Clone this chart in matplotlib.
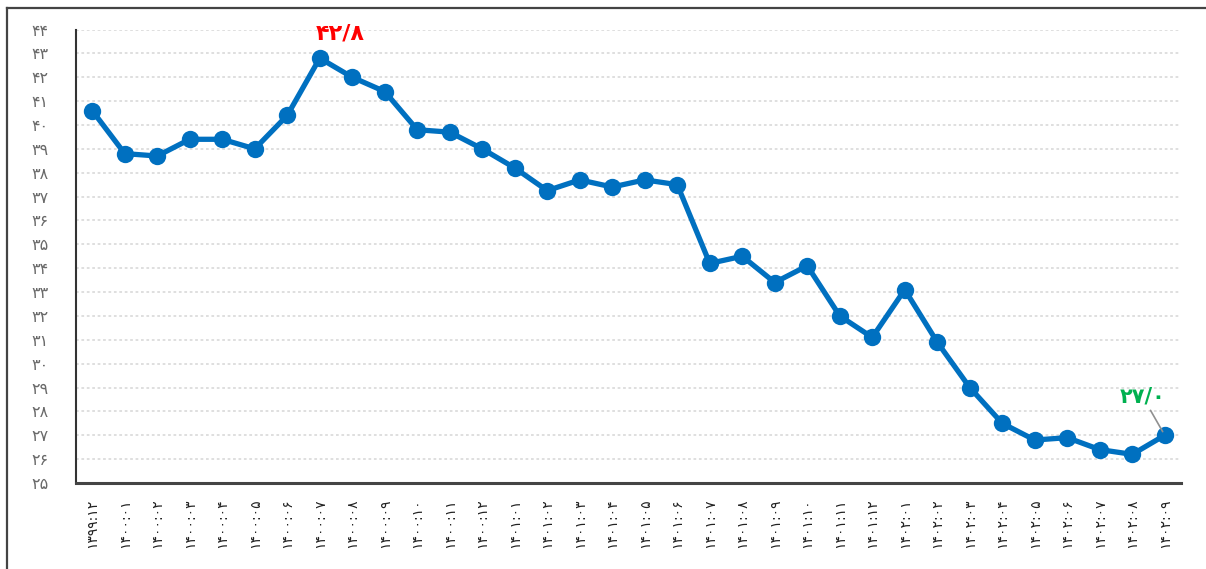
import matplotlib
matplotlib.use("Agg")
import matplotlib.pyplot as plt
from matplotlib.lines import Line2D

plt.rcParams['font.family'] = ['DejaVu Sans']

# ---- data ----
periods = ["۱۳۹۹:۱۲",
           "۱۴۰۰:۰۱", "۱۴۰۰:۰۲", "۱۴۰۰:۰۳", "۱۴۰۰:۰۴", "۱۴۰۰:۰۵", "۱۴۰۰:۰۶",
           "۱۴۰۰:۰۷", "۱۴۰۰:۰۸", "۱۴۰۰:۰۹", "۱۴۰۰:۱۰", "۱۴۰۰:۱۱", "۱۴۰۰:۱۲",
           "۱۴۰۱:۰۱", "۱۴۰۱:۰۲", "۱۴۰۱:۰۳", "۱۴۰۱:۰۴", "۱۴۰۱:۰۵", "۱۴۰۱:۰۶",
           "۱۴۰۱:۰۷", "۱۴۰۱:۰۸", "۱۴۰۱:۰۹", "۱۴۰۱:۱۰", "۱۴۰۱:۱۱", "۱۴۰۱:۱۲",
           "۱۴۰۲:۰۱", "۱۴۰۲:۰۲", "۱۴۰۲:۰۳", "۱۴۰۲:۰۴", "۱۴۰۲:۰۵", "۱۴۰۲:۰۶",
           "۱۴۰۲:۰۷", "۱۴۰۲:۰۸", "۱۴۰۲:۰۹"]
values = [40.6, 38.8, 38.7, 39.4, 39.4, 39.0, 40.4, 42.8, 42.0, 41.4, 39.8, 39.7,
          39.0, 38.2, 37.25, 37.7, 37.4, 37.7, 37.5, 34.2, 34.5, 33.4, 34.1, 32.0,
          31.1, 33.1, 30.9, 29.0, 27.5, 26.8, 26.9, 26.4, 26.2, 27.0]
y_ticks = list(range(25, 45))
y_tick_labels = ["۲۵", "۲۶", "۲۷", "۲۸", "۲۹", "۳۰", "۳۱", "۳۲", "۳۳", "۳۴",
                 "۳۵", "۳۶", "۳۷", "۳۸", "۳۹", "۴۰", "۴۱", "۴۲", "۴۳", "۴۴"]
max_label = "۴۲/۸"
last_label = "۲۷/۰"

W, H = 1206, 569
fig = plt.figure(figsize=(W / 100, H / 100), dpi=100)
ax = fig.add_axes([76 / W, 1 - 483 / H, (1181 - 76) / W, (483 - 29.5) / H])

x = list(range(len(values)))
ax.plot(x, values, color="#0070C0", lw=3.8, marker="o", ms=12.5,
        markeredgewidth=0, solid_joinstyle="round", zorder=3)

ax.set_xlim(-0.5, len(values) - 0.5)
ax.set_ylim(25, 44)
ax.set_yticks(y_ticks)
ax.set_yticklabels(y_tick_labels, fontsize=11.5, color="#6a6a6a")
ax.set_xticks(x)
ax.set_xticklabels(periods, rotation=90, fontsize=10, color="#222222")
ax.tick_params(axis="y", length=0, pad=20)
ax.tick_params(axis="x", length=0, pad=11)

for v in y_ticks[1:]:
    ax.axhline(v, color="#dcdcdc", lw=1.3, ls=(0, (1.5, 1.5)), zorder=1)

for s in ["top", "right"]:
    ax.spines[s].set_visible(False)
ax.spines["left"].set_color("#333333")
ax.spines["left"].set_linewidth(1.5)
ax.spines["bottom"].set_color("#444444")
ax.spines["bottom"].set_linewidth(2.2)

# annotations
imax = values.index(max(values))
ax.annotate(max_label, xy=(imax, values[imax]), xytext=(15, 18),
            textcoords="offset points", ha="center", va="center",
            color="#FF0000", fontsize=16, fontweight="bold")
il = len(values) - 1
ax.annotate(last_label, xy=(il, values[il]), xytext=(-16, 28),
            textcoords="offset points", ha="center", va="center",
            color="#00B050", fontsize=15, fontweight="bold",
            arrowprops=dict(arrowstyle="-", color="#909090", lw=1.2,
                            shrinkA=1, shrinkB=3))

# outer frame
fig.add_artist(Line2D([7 / W, 1.0], [1 - 8 / H, 1 - 8 / H], color="#444444", lw=1.6,
                      transform=fig.transFigure))
fig.add_artist(Line2D([7 / W, 7 / W], [0, 1 - 8 / H], color="#444444", lw=1.6,
                      transform=fig.transFigure))

fig.savefig("out.png", dpi=100, facecolor="white")
